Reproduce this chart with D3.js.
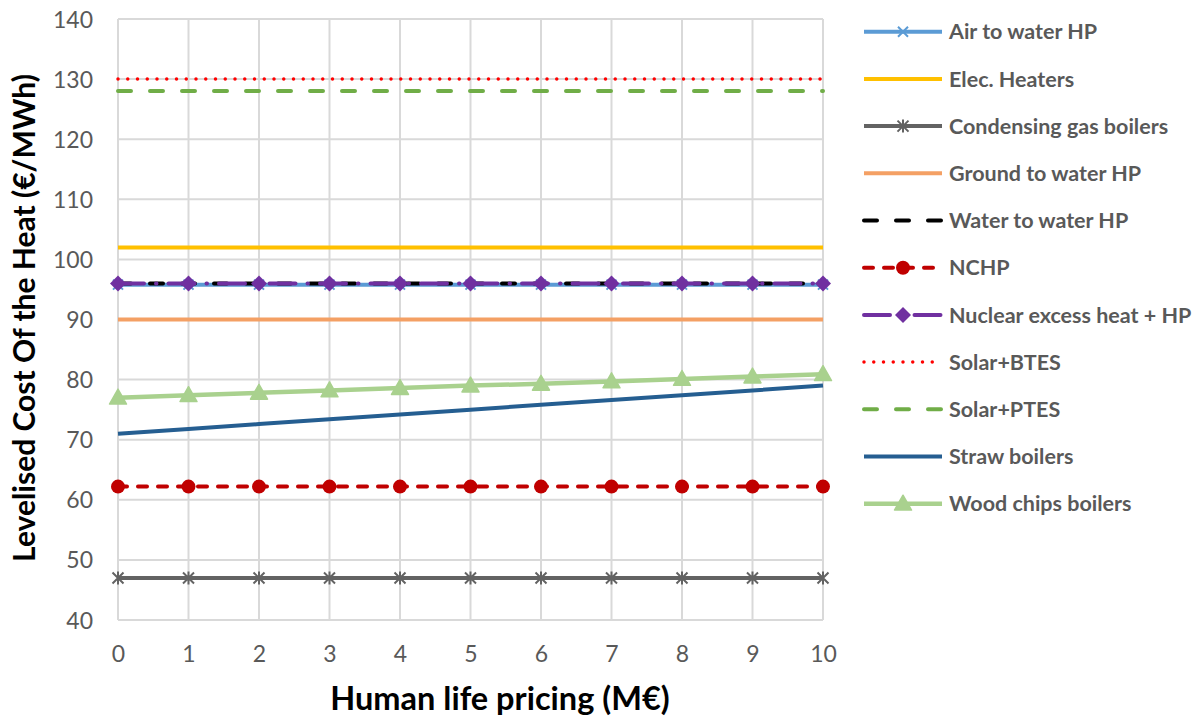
<!DOCTYPE html>
<html>
<head>
<meta charset="utf-8">
<script src="https://cdn.jsdelivr.net/npm/d3@7"></script>
<style>
  html, body { margin: 0; padding: 0; background: #fff; }
  svg { display: block; }
</style>
</head>
<body>
<svg id="chart" width="1201" height="720"></svg>
<script>
// ---- data ----
const xValues = [0, 1, 2, 3, 4, 5, 6, 7, 8, 9, 10];
const yTicks = [40, 50, 60, 70, 80, 90, 100, 110, 120, 130, 140];
const seriesNames = [
  "Air to water HP", "Elec. Heaters", "Condensing gas boilers", "Ground to water HP",
  "Water to water HP", "NCHP", "Nuclear excess heat + HP", "Solar+BTES",
  "Solar+PTES", "Straw boilers", "Wood chips boilers"
];
const airToWater   = [95.8, 95.8, 95.8, 95.8, 95.8, 95.8, 95.8, 95.8, 95.8, 95.8, 95.8];
const elecHeaters  = [102, 102, 102, 102, 102, 102, 102, 102, 102, 102, 102];
const gasBoilers   = [47, 47, 47, 47, 47, 47, 47, 47, 47, 47, 47];
const groundToWater= [90, 90, 90, 90, 90, 90, 90, 90, 90, 90, 90];
const waterToWater = [96, 96, 96, 96, 96, 96, 96, 96, 96, 96, 96];
const nchp         = [62.2, 62.2, 62.2, 62.2, 62.2, 62.2, 62.2, 62.2, 62.2, 62.2, 62.2];
const nuclear      = [96, 96, 96, 96, 96, 96, 96, 96, 96, 96, 96];
const solarBTES    = [130, 130, 130, 130, 130, 130, 130, 130, 130, 130, 130];
const solarPTES    = [128, 128, 128, 128, 128, 128, 128, 128, 128, 128, 128];
const straw        = [71, 71.8, 72.6, 73.4, 74.2, 75, 75.8, 76.6, 77.4, 78.2, 79];
const woodChips    = [77, 77.4, 77.8, 78.2, 78.6, 79, 79.3, 79.7, 80.1, 80.5, 80.9];

// ---- styles ----
const styles = [
  { color: "#5B9BD5", width: 4,   dash: null,            cap: "butt",  marker: "x",        mcolor: "#5B9BD5" },
  { color: "#FFC000", width: 4,   dash: null,            cap: "butt",  marker: null },
  { color: "#636363", width: 4,   dash: null,            cap: "butt",  marker: "asterisk", mcolor: "#636363" },
  { color: "#F4A064", width: 4,   dash: null,            cap: "butt",  marker: null },
  { color: "#000000", width: 4,   dash: "13,19",         cap: "round", marker: null },
  { color: "#C00000", width: 4,   dash: "9,11",          cap: "round", marker: "circle",   mcolor: "#C00000" },
  { color: "#7030A0", width: 4,   dash: "26,12,0.5,12",  cap: "round", marker: "diamond",  mcolor: "#7030A0" },
  { color: "#FF0000", width: 3.5, dash: "0,9.75",        cap: "round", marker: null },
  { color: "#70AD47", width: 4,   dash: "13,19",         cap: "round", marker: null },
  { color: "#255E91", width: 4,   dash: null,            cap: "butt",  marker: null },
  { color: "#A9D18E", width: 4.5, dash: null,            cap: "butt",  marker: "triangle", mcolor: "#A9D18E" }
];
const allValues = [airToWater, elecHeaters, gasBoilers, groundToWater, waterToWater,
  nchp, nuclear, solarBTES, solarPTES, straw, woodChips];

const svg = d3.select("#chart");
const mLeft = 118, mTop = 19, plotW = 705, plotH = 601;
const font = "Lato, 'Open Sans', sans-serif";

const x = d3.scaleLinear().domain([0, 10]).range([mLeft, mLeft + plotW]);
const y = d3.scaleLinear().domain([40, 140]).range([mTop + plotH, mTop]);

const gridColor = "#D9D9D9";

// grid
const g = svg.append("g");
g.selectAll("line.h").data(yTicks).join("line")
  .attr("x1", mLeft).attr("x2", mLeft + plotW)
  .attr("y1", d => y(d)).attr("y2", d => y(d))
  .attr("stroke", gridColor).attr("stroke-width", 2);
g.selectAll("line.v").data(xValues).join("line")
  .attr("y1", mTop).attr("y2", mTop + plotH)
  .attr("x1", d => x(d)).attr("x2", d => x(d))
  .attr("stroke", gridColor).attr("stroke-width", 2);

// axes (tick labels only)
const yAxis = d3.axisLeft(y).tickValues(yTicks).tickSize(0).tickPadding(0);
const ya = svg.append("g").attr("transform", `translate(${mLeft - 25},0)`).call(yAxis);
ya.select(".domain").remove();
ya.selectAll("text").attr("font-family", font)
  .attr("font-size", 23).attr("fill", "#595959").attr("dy", "0.35em");

const xAxis = d3.axisBottom(x).tickValues(xValues).tickSize(0).tickPadding(0);
const xa = svg.append("g").attr("transform", `translate(0,${mTop + plotH + 26})`).call(xAxis);
xa.select(".domain").remove();
xa.selectAll("text").attr("font-family", font)
  .attr("font-size", 23).attr("fill", "#595959").attr("dy", "0.71em");

// series lines
const line = d3.line().x((d, i) => x(xValues[i])).y(d => y(d));

function drawMarker(sel, type, cx, cy, color) {
  if (type === "x") {
    const s = 5;
    sel.append("path").attr("d", `M${cx - s},${cy - s}L${cx + s},${cy + s}M${cx - s},${cy + s}L${cx + s},${cy - s}`)
      .attr("stroke", color).attr("stroke-width", 2).attr("fill", "none");
  } else if (type === "asterisk") {
    const s = 5.5;
    sel.append("path").attr("d", `M${cx - s},${cy - s}L${cx + s},${cy + s}M${cx - s},${cy + s}L${cx + s},${cy - s}M${cx},${cy - s - 1}L${cx},${cy + s + 1}`)
      .attr("stroke", color).attr("stroke-width", 2).attr("fill", "none");
  } else if (type === "circle") {
    sel.append("circle").attr("cx", cx).attr("cy", cy).attr("r", 7).attr("fill", color);
  } else if (type === "diamond") {
    const s = 8;
    sel.append("path").attr("d", `M${cx},${cy - s}L${cx + s},${cy}L${cx},${cy + s}L${cx - s},${cy}Z`).attr("fill", color);
  } else if (type === "triangle") {
    const s = 8.5;
    sel.append("path").attr("d", `M${cx},${cy - s}L${cx + s},${cy + s * 0.75}L${cx - s},${cy + s * 0.75}Z`)
      .attr("fill", color).attr("stroke", color).attr("stroke-width", 1.5).attr("stroke-linejoin", "round");
  }
}

allValues.forEach((vals, k) => {
  const st = styles[k];
  const sg = svg.append("g");
  sg.append("path").datum(vals).attr("d", line)
    .attr("fill", "none").attr("stroke", st.color).attr("stroke-width", st.width)
    .attr("stroke-dasharray", st.dash).attr("stroke-linecap", st.cap);
  if (st.marker) {
    vals.forEach((v, i) => drawMarker(sg, st.marker, x(xValues[i]), y(v), st.mcolor));
  }
});

// axis titles
svg.append("text")
  .attr("x", 500).attr("y", 710)
  .attr("text-anchor", "middle")
  .attr("font-family", font).attr("font-weight", "bold")
  .attr("font-size", 32.5).attr("fill", "#000")
  .text("Human life pricing (M€)");

svg.append("text")
  .attr("transform", `translate(35,318) rotate(-90)`)
  .attr("text-anchor", "middle")
  .attr("font-family", font).attr("font-weight", "bold")
  .attr("font-size", 30).attr("fill", "#000")
  .text("Levelised Cost Of the Heat (€/MWh)");

// legend
const legY0 = 31.7, legStep = 47.2, legX1 = 864, legX2 = 942, legTx = 949;
seriesNames.forEach((name, k) => {
  const st = styles[k];
  const ly = legY0 + k * legStep;
  const lg = svg.append("g");
  lg.append("line").attr("x1", legX1).attr("x2", legX2).attr("y1", ly).attr("y2", ly)
    .attr("stroke", st.color).attr("stroke-width", st.width)
    .attr("stroke-dasharray", st.dash).attr("stroke-linecap", st.cap);
  if (st.marker) drawMarker(lg, st.marker, (legX1 + legX2) / 2, ly, st.mcolor);
  lg.append("text").attr("x", legTx).attr("y", ly).attr("dy", "0.36em")
    .attr("font-family", font).attr("font-weight", "bold")
    .attr("font-size", 21.5).attr("fill", "#595959")
    .text(name);
});
</script>
</body>
</html>
